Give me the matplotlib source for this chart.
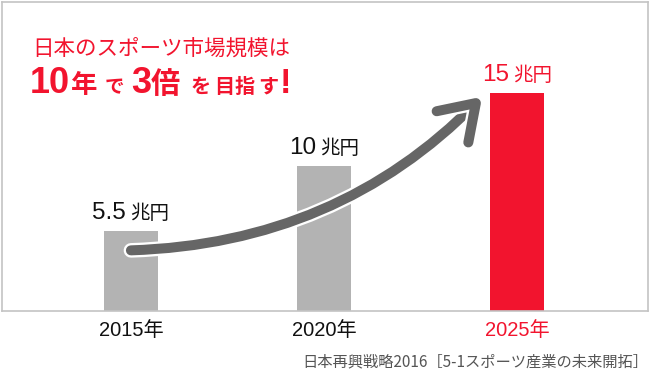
import matplotlib.pyplot as plt
import matplotlib.patheffects as pe
from matplotlib.patches import FancyArrowPatch, ArrowStyle
from matplotlib.offsetbox import TextArea, HPacker, AnnotationBbox

# データ
years = ['2015', '2020', '2025']
values = [5.5, 10, 15]
value_labels = ['5.5', '10', '15']
unit = '兆円'
year_unit = '年'
source = '日本再興戦略2016［5-1スポーツ産業の未来開拓］'
title_line1 = '日本のスポーツ市場規模は'

# 色
GRAY = '#b3b3b3'
RED = '#f2142e'
ARROW = '#666666'
colors = [GRAY, GRAY, RED]
text_colors = ['#111111', '#111111', RED]

LATIN = ['Liberation Sans', 'Noto Sans CJK JP']
CJK = ['Noto Sans CJK JP', 'DejaVu Sans']

W, H = 650, 370
fig = plt.figure(figsize=(W / 100, H / 100), dpi=100)
ax = fig.add_axes([2 / W, 59 / H, 646 / W, 309 / H])

x = list(range(len(years)))
ax.bar(x, values, width=0.28, color=colors, zorder=2)
ax.set_xlim(-0.668, 2.679)
ax.set_ylim(0, 21.3)
ax.set_yticks([])
ax.set_xticks(x)
ax.set_xticklabels([y + year_unit for y in years], family=LATIN, fontsize=14.5)
for lbl, c in zip(ax.get_xticklabels(), text_colors):
    lbl.set_color(c)
ax.tick_params(axis='x', length=0, pad=7)
for s in ax.spines.values():
    s.set_color('#c4c4c4')
    s.set_linewidth(1.2)

# 値ラベル（数字 + 兆円）
for xi, v, lab, c in zip(x, values, value_labels, text_colors):
    num = TextArea(lab, textprops=dict(family=LATIN, fontsize=17.5, color=c))
    un = TextArea(unit, textprops=dict(family=CJK, fontsize=14, color=c))
    box = HPacker(children=[num, un], align='baseline', pad=0, sep=3)
    ab = AnnotationBbox(box, (xi, v), xybox=(0, 5), xycoords='data',
                        boxcoords='offset points', box_alignment=(0.5, 0),
                        frameon=False, zorder=4)
    ax.add_artist(ab)

# 矢印
arrow = FancyArrowPatch((x[0], values[0] * 0.76), (x[2] - 0.18, values[2] * 0.985),
                        connectionstyle='arc3,rad=0.2',
                        arrowstyle=ArrowStyle('->', head_length=0.6, head_width=0.4),
                        mutation_scale=40, color=ARROW, lw=7.2,
                        capstyle='round', joinstyle='round',
                        shrinkA=0, shrinkB=0, zorder=3)
arrow.set_path_effects([pe.Stroke(linewidth=10.5, foreground='white'), pe.Normal()])
ax.add_patch(arrow)

# タイトル
fig.text(32 / W, 1 - 55 / H, title_line1, family=CJK, fontsize=15.5, color=RED,
         va='baseline', ha='left')

title_parts = [
    ('10', 30, 26, 'bold', LATIN),
    ('年', 71, 19, 'bold', CJK),
    ('で', 105, 14, 'bold', CJK),
    ('3', 131, 26, 'bold', LATIN),
    ('倍', 151, 21, 'bold', CJK),
    ('を', 191, 14.5, 'bold', CJK),
    ('目', 214, 14.5, 'bold', CJK),
    ('指', 235, 14.5, 'bold', CJK),
    ('す', 258, 14.5, 'bold', CJK),
    ('!', 280, 25, 'bold', LATIN),
]
for txt, px, size, weight, fam in title_parts:
    fig.text(px / W, 1 - 93 / H, txt, family=fam, fontsize=size, fontweight=weight,
             color=RED, va='baseline', ha='left')

# 出典
fig.text(648 / W, 1 - 366 / H, source, family=CJK, fontsize=11, color='#555555',
         ha='right', va='baseline')

fig.savefig('out.png', dpi=100)
